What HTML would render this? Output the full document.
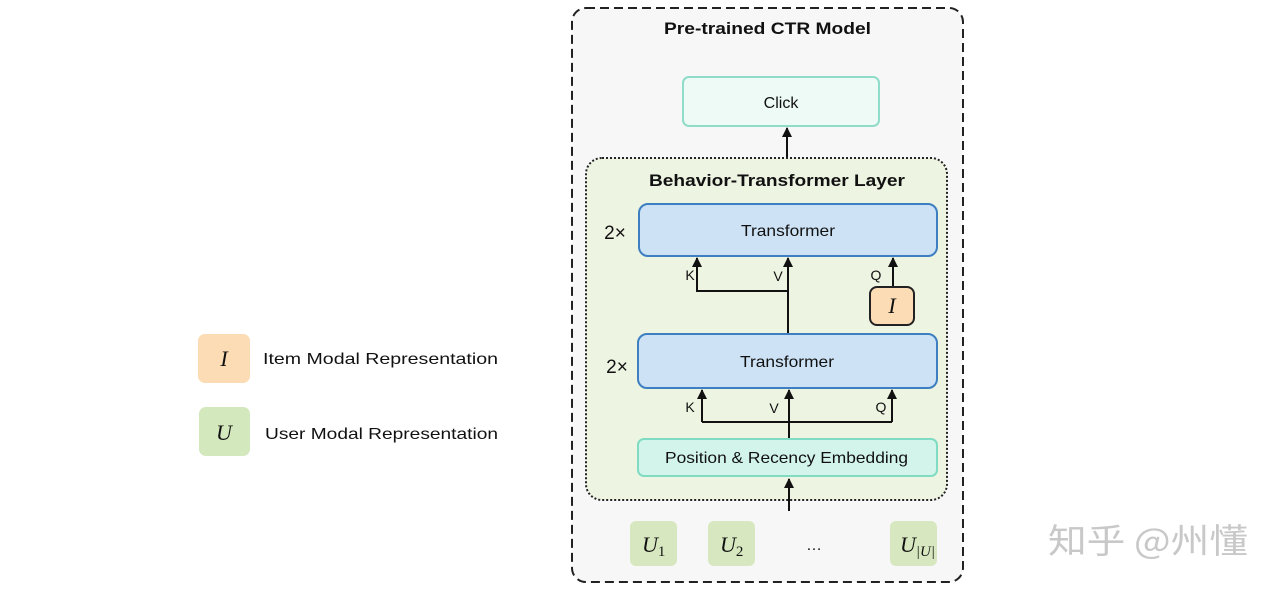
<!DOCTYPE html>
<html><head><meta charset="utf-8"><style>
html,body{margin:0;padding:0;background:#fff;}
svg{display:block;font-family:"Liberation Sans",sans-serif;}
.s{font-size:16px;fill:#111;}
.m{font-family:"Liberation Serif",serif;font-style:italic;font-size:22px;fill:#111;}
</style></head><body>
<svg width="1280" height="592" viewBox="0 0 1280 592" xmlns="http://www.w3.org/2000/svg">
<defs><marker id="a" viewBox="0 0 10 10" refX="9" refY="5" markerWidth="5" markerHeight="5" orient="auto"><path d="M0,0L10,5L0,10z" fill="#111"/></marker></defs>
<!-- legend -->
<rect x="198" y="334" width="52" height="49" rx="7" fill="#fbdcb5"/>
<text x="224" y="366" class="m" text-anchor="middle">I</text>
<text x="263" y="364" class="s" font-size="17" textLength="235" lengthAdjust="spacingAndGlyphs">Item Modal Representation</text>
<rect x="199" y="407" width="51" height="49" rx="7" fill="#d3e8bd"/>
<text x="224" y="440" class="m" text-anchor="middle">U</text>
<text x="265" y="439" class="s" font-size="17" textLength="233" lengthAdjust="spacingAndGlyphs">User Modal Representation</text>
<!-- outer -->
<rect x="572" y="8" width="391" height="574" rx="14" fill="#f7f7f7" stroke="#222" stroke-width="2" stroke-dasharray="9,5"/>
<text x="664" y="34" font-weight="bold" font-size="17" fill="#111" textLength="207" lengthAdjust="spacingAndGlyphs">Pre-trained CTR Model</text>
<rect x="683" y="77" width="196" height="49" rx="6" fill="#eefaf6" stroke="#8fdcc8" stroke-width="2"/>
<text x="781" y="108" text-anchor="middle" class="s">Click</text>
<line x1="787" y1="160" x2="787" y2="128" stroke="#111" stroke-width="2" marker-end="url(#a)"/>
<rect x="586" y="158" width="361" height="342" rx="16" fill="#eef4e2" stroke="#222" stroke-width="2" stroke-dasharray="2,2"/>
<text x="649" y="186" font-weight="bold" font-size="17" fill="#111" textLength="256" lengthAdjust="spacingAndGlyphs">Behavior-Transformer Layer</text>
<rect x="639" y="204" width="298" height="52" rx="9" fill="#cde3f5" stroke="#3d7fc0" stroke-width="2"/>
<text x="741" y="236" class="s" textLength="94" lengthAdjust="spacingAndGlyphs">Transformer</text>
<text x="615" y="239" text-anchor="middle" font-size="19" fill="#111">2×</text>
<path d="M788 335V258M697 258V291H788" fill="none" stroke="#111" stroke-width="2"/>
<line x1="697" y1="291" x2="697" y2="258" stroke="#111" stroke-width="2" marker-end="url(#a)"/>
<line x1="788" y1="300" x2="788" y2="258" stroke="#111" stroke-width="2" marker-end="url(#a)"/>
<line x1="893" y1="287" x2="893" y2="258" stroke="#111" stroke-width="2" marker-end="url(#a)"/>
<text x="690" y="280" text-anchor="middle" font-size="14" fill="#111">K</text>
<text x="778" y="281" text-anchor="middle" font-size="14" fill="#111">V</text>
<text x="876" y="280" text-anchor="middle" font-size="14" fill="#111">Q</text>
<rect x="870" y="287" width="44" height="38" rx="7" fill="#fbdcb5" stroke="#222" stroke-width="2"/>
<text x="892" y="313" class="m" text-anchor="middle" font-size="20">I</text>
<rect x="638" y="334" width="299" height="54" rx="9" fill="#cde3f5" stroke="#3d7fc0" stroke-width="2"/>
<text x="740" y="367" class="s" textLength="94" lengthAdjust="spacingAndGlyphs">Transformer</text>
<text x="617" y="373" text-anchor="middle" font-size="19" fill="#111">2×</text>
<path d="M702 422H892M789 440V422" fill="none" stroke="#111" stroke-width="2"/>
<line x1="702" y1="422" x2="702" y2="390" stroke="#111" stroke-width="2" marker-end="url(#a)"/>
<line x1="789" y1="422" x2="789" y2="390" stroke="#111" stroke-width="2" marker-end="url(#a)"/>
<line x1="892" y1="422" x2="892" y2="390" stroke="#111" stroke-width="2" marker-end="url(#a)"/>
<text x="690" y="412" text-anchor="middle" font-size="14" fill="#111">K</text>
<text x="774" y="413" text-anchor="middle" font-size="14" fill="#111">V</text>
<text x="881" y="412" text-anchor="middle" font-size="14" fill="#111">Q</text>
<rect x="638" y="439" width="299" height="37" rx="6" fill="#d2f4ea" stroke="#7fdcc2" stroke-width="2"/>
<text x="665" y="463" class="s" textLength="243" lengthAdjust="spacingAndGlyphs">Position &amp; Recency Embedding</text>
<line x1="789" y1="511" x2="789" y2="479" stroke="#111" stroke-width="2" marker-end="url(#a)"/>
<rect x="630" y="521" width="47" height="45" rx="6" fill="#d7e8c0"/>
<rect x="708" y="521" width="47" height="45" rx="6" fill="#d7e8c0"/>
<rect x="890" y="521" width="47" height="45" rx="6" fill="#d7e8c0"/>
<text x="642" y="552" class="m">U<tspan font-style="normal" font-size="15" dy="4">1</tspan></text>
<text x="720" y="552" class="m">U<tspan font-style="normal" font-size="15" dy="4">2</tspan></text>
<text x="900" y="552" class="m">U<tspan font-size="15" dy="4">|U|</tspan></text>
<text x="814" y="550" text-anchor="middle" font-size="16" fill="#111">…</text>
<text x="1048" y="553" font-family="'Noto Sans CJK SC',sans-serif" font-size="34" fill="#c8c8c8" textLength="200" lengthAdjust="spacingAndGlyphs">知乎 @州懂</text>
</svg>
</body></html>
